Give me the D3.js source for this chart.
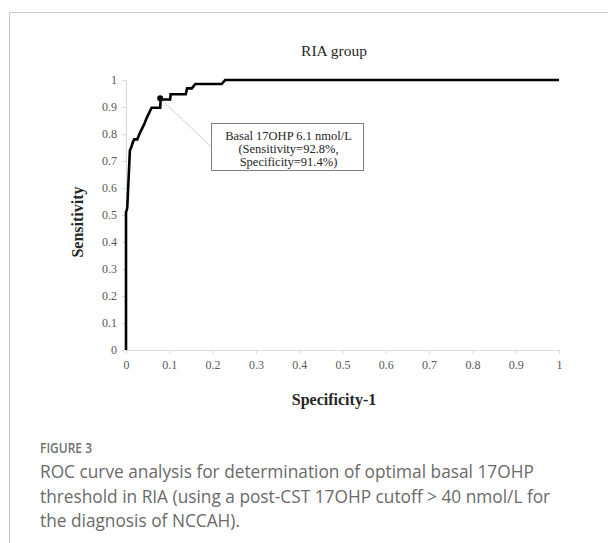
<!DOCTYPE html>
<html><head><meta charset="utf-8">
<script src="https://cdn.jsdelivr.net/npm/d3@7"></script>
<style>
html,body{margin:0;padding:0;background:#fff;}
svg{display:block;}
</style></head>
<body>
<svg id="c" width="608" height="543"></svg>
<script>
const title = "RIA group";
const xLabel = "Specificity-1";
const yLabel = "Sensitivity";
const xTicks = [0,0.1,0.2,0.3,0.4,0.5,0.6,0.7,0.8,0.9,1];
const yTicks = [0,0.1,0.2,0.3,0.4,0.5,0.6,0.7,0.8,0.9,1];
const fpr = [0, 0, 0.002, 0.003, 0.009, 0.012, 0.016, 0.019, 0.026, 0.031, 0.037, 0.043, 0.048, 0.054, 0.059, 0.079, 0.080, 0.102, 0.103, 0.138, 0.141, 0.152, 0.160, 0.221, 0.229, 1];
const tpr = [0, 0.51, 0.52, 0.53, 0.74, 0.75, 0.77, 0.78, 0.78, 0.80, 0.82, 0.84, 0.86, 0.88, 0.897, 0.897, 0.928, 0.928, 0.947, 0.947, 0.969, 0.969, 0.985, 0.985, 1, 1];
const optimal = {fpr: 0.079, tpr: 0.932};
const annotation = ["Basal 17OHP 6.1 nmol/L", "(Sensitivity=92.8%,", "Specificity=91.4%)"];
const captionHead = "FIGURE 3";
const captionLines = [
  "ROC curve analysis for determination of optimal basal 17OHP",
  "threshold in RIA (using a post-CST 17OHP cutoff > 40 nmol/L for",
  "the diagnosis of NCCAH)."
];

const svg = d3.select("#c");
const serif = "'Liberation Serif','Times New Roman',serif";

// frame
svg.append("line").attr("x1",9.5).attr("x2",608).attr("y1",12.5).attr("y2",12.5).attr("stroke","#c8c8c8").attr("stroke-width",1);
svg.append("line").attr("x1",9.5).attr("x2",9.5).attr("y1",12.5).attr("y2",543).attr("stroke","#c8c8c8").attr("stroke-width",1);

const x = d3.scaleLinear().domain([0,1]).range([126,559]);
const y = d3.scaleLinear().domain([0,1]).range([350,80]);

// axes
const xAxis = svg.append("g").attr("transform","translate(0,350)")
  .call(d3.axisBottom(x).tickValues(xTicks).tickFormat(d=>d3.format("")(d)).tickSize(4).tickSizeOuter(0));
const yAxis = svg.append("g").attr("transform","translate(126,0)")
  .call(d3.axisLeft(y).tickValues(yTicks).tickFormat(d=>d3.format("")(d)).tickSize(4).tickSizeOuter(0));
[xAxis,yAxis].forEach(g=>{
  g.select(".domain").attr("stroke","#d9d9d9");
  g.selectAll(".tick line").attr("stroke","#d9d9d9");
  g.selectAll(".tick text").attr("fill","#595959").style("font-family",serif).style("font-size","12px");
});
xAxis.selectAll(".tick text").attr("dy","0.71em").attr("y",10);
yAxis.selectAll(".tick text").attr("x",-9);

// title
svg.append("text").attr("x",334).attr("y",56).attr("text-anchor","middle")
  .style("font-family",serif).style("font-size","15.5px").attr("fill","#262626").text(title);
// axis titles
svg.append("text").attr("x",334).attr("y",405).attr("text-anchor","middle")
  .style("font-family",serif).style("font-size","16px").style("font-weight","bold").attr("fill","#262626").text(xLabel);
svg.append("text").attr("transform","translate(83,222) rotate(-90)").attr("text-anchor","middle")
  .style("font-family",serif).style("font-size","16px").style("font-weight","bold").attr("fill","#262626").text(yLabel);

// connector and box
const box = {x:211.5, y:123.5, w:152, h:47};
svg.append("line").attr("x1",x(optimal.fpr)).attr("y1",y(optimal.tpr))
  .attr("x2",box.x).attr("y2",box.y+box.h/2).attr("stroke","#cfcfcf").attr("stroke-width",1);
svg.append("rect").attr("x",box.x).attr("y",box.y).attr("width",box.w).attr("height",box.h)
  .attr("fill","#fff").attr("stroke","#7f7f7f").attr("stroke-width",1);
annotation.forEach((t,i)=>{
  svg.append("text").attr("x",box.x+box.w/2+1).attr("y",box.y+16+i*13.3).attr("text-anchor","middle")
    .style("font-family",serif).style("font-size","12.5px").attr("fill","#262626").text(t);
});

// ROC curve
const pts = fpr.map((f,i)=>[f,tpr[i]]);
svg.append("path").datum(pts)
  .attr("d", d3.line().x(d=>x(d[0])).y(d=>y(d[1])))
  .attr("fill","none").attr("stroke","#000").attr("stroke-width",2.6).attr("stroke-linejoin","miter");
svg.append("circle").attr("cx",x(optimal.fpr)).attr("cy",y(optimal.tpr)).attr("r",3).attr("fill","#000");

// caption
const sans = "'Open Sans','Noto Sans',sans-serif";
svg.append("text").attr("x",40).attr("y",453).style("font-family",sans).style("font-size","14px")
  .style("font-weight","600").attr("fill","#707070")
  .attr("textLength",52).attr("lengthAdjust","spacingAndGlyphs").text(captionHead);
captionLines.forEach((t,i)=>{
  svg.append("text").attr("x",40).attr("y",478+i*24.5).style("font-family",sans).style("font-size","17.3px")
    .attr("fill","#6a6a6a").text(t);
});
</script>
</body></html>
